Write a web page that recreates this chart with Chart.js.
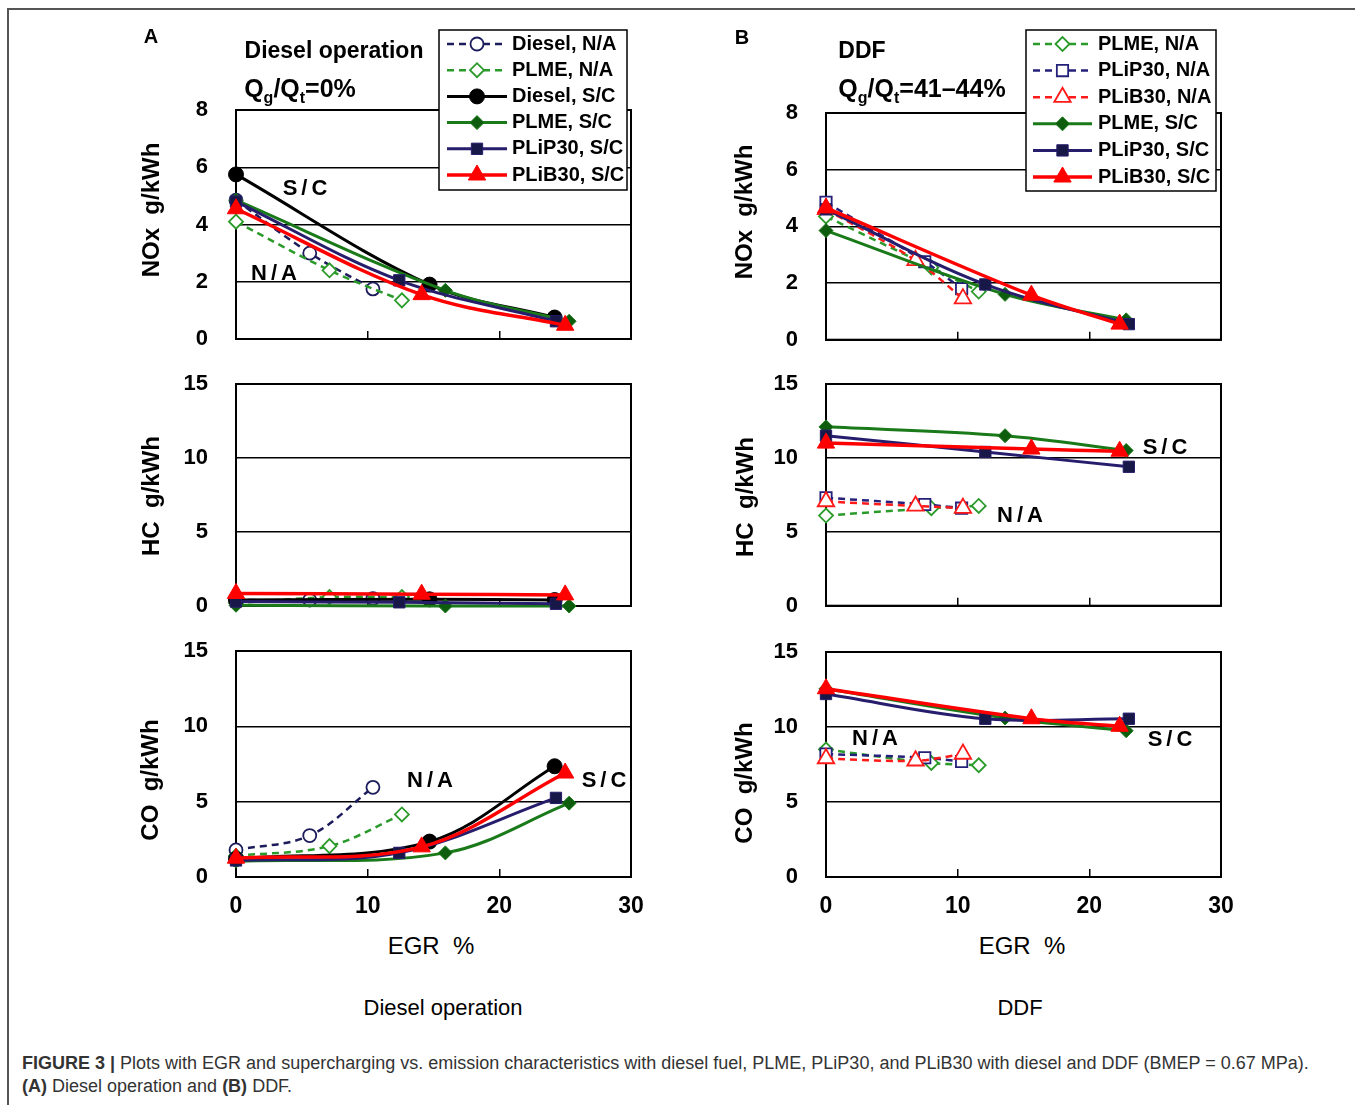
<!DOCTYPE html>
<html>
<head>
<meta charset="utf-8">
<script src="https://cdn.jsdelivr.net/npm/chart.js"></script>
<style>
  html, body { margin: 0; padding: 0; background: #fff; }
  body { width: 1355px; height: 1105px; position: relative; overflow: hidden;
         font-family: "Liberation Sans", Arial, sans-serif; }
  .frame { position: absolute; left: 7px; top: 8px; width: 1400px; height: 1200px;
           border-top: 2px solid #555; border-left: 2px solid #555; }
  canvas { position: absolute; }
  .t { position: absolute; white-space: pre; line-height: 1; color: #000;
       transform: translate(-50%, -50%); }
  .b { font-weight: bold; }
  .lab { font-weight: bold; font-size: 22px; letter-spacing: 4px; }
  .ytitle { font-weight: bold; font-size: 24px; transform: translate(-50%, -50%) rotate(-90deg); }
  .q sub { font-size: 16px; vertical-align: -6px; }
  .cap { position: absolute; left: 22px; top: 1052px; font-size: 18px; line-height: 23px;
         color: #333; white-space: nowrap; }
</style>
</head>
<body>
<div class="frame"></div>

<canvas id="noxA" width="520" height="330" style="left:130px;top:20px"></canvas>
<canvas id="hcA" width="520" height="247" style="left:130px;top:370px"></canvas>
<canvas id="coA" width="520" height="290" style="left:130px;top:637px"></canvas>
<canvas id="noxB" width="520" height="331" style="left:720px;top:20px"></canvas>
<canvas id="hcB" width="520" height="247" style="left:720px;top:370px"></canvas>
<canvas id="coB" width="520" height="289" style="left:720px;top:638px"></canvas>

<div class="t b" style="left:151px;top:36px;font-size:20px">A</div>
<div class="t b" style="left:742px;top:37px;font-size:20px">B</div>
<div class="t b" style="left:334px;top:50px;font-size:23px">Diesel operation</div>
<div class="t b q" style="left:300px;top:91px;font-size:25px">Q<sub>g</sub>/Q<sub>t</sub>=0%</div>
<div class="t b" style="left:862px;top:50px;font-size:23px">DDF</div>
<div class="t b q" style="left:922px;top:91px;font-size:25px">Q<sub>g</sub>/Q<sub>t</sub>=41–44%</div>

<div class="t lab" style="left:307px;top:188px">S/C</div>
<div class="t lab" style="left:276px;top:273px">N/A</div>
<div class="t lab" style="left:432px;top:780px">N/A</div>
<div class="t lab" style="left:606px;top:780px">S/C</div>
<div class="t lab" style="left:1167px;top:447px">S/C</div>
<div class="t lab" style="left:1022px;top:515px">N/A</div>
<div class="t lab" style="left:877px;top:738px">N/A</div>
<div class="t lab" style="left:1172px;top:739px">S/C</div>

<div class="t ytitle" style="left:151px;top:210px">NOx  g/kWh</div>
<div class="t ytitle" style="left:151px;top:496px">HC  g/kWh</div>
<div class="t ytitle" style="left:150px;top:780px">CO  g/kWh</div>
<div class="t ytitle" style="left:744px;top:212px">NOx  g/kWh</div>
<div class="t ytitle" style="left:745px;top:497px">HC  g/kWh</div>
<div class="t ytitle" style="left:744px;top:783px">CO  g/kWh</div>

<div class="t" style="left:431px;top:946px;font-size:24px">EGR  %</div>
<div class="t" style="left:1022px;top:946px;font-size:24px">EGR  %</div>
<div class="t" style="left:443px;top:1008px;font-size:22px">Diesel operation</div>
<div class="t" style="left:1020px;top:1008px;font-size:22px">DDF</div>

<div class="cap"><b>FIGURE 3 |</b> Plots with EGR and supercharging vs. emission characteristics with diesel fuel, PLME, PLiP30, and PLiB30 with diesel and DDF (BMEP = 0.67 MPa).<br><b>(A)</b> Diesel operation and <b>(B)</b> DDF.</div>

<script>
// axis ticks
const egrTicks = [0, 10, 20, 30];
const noxTicks = [0, 2, 4, 6, 8];
const gasTicks = [0, 5, 10, 15];

// (A) Diesel operation -- EGR % of each series
const egrA_dieselNA = [0, 5.6, 10.4];
const egrA_plmeNA   = [0, 7.1, 12.6];
const egrA_dieselSC = [0, 14.7, 24.2];
const egrA_plmeSC   = [0, 15.9, 25.3];
const egrA_plip30SC = [0, 12.4, 24.3];
const egrA_plib30SC = [0, 14.1, 25.0];

const noxA_dieselNA = [4.85, 3.0, 1.75];
const noxA_plmeNA   = [4.1, 2.4, 1.35];
const noxA_dieselSC = [5.75, 1.9, 0.75];
const noxA_plmeSC   = [4.85, 1.7, 0.62];
const noxA_plip30SC = [4.8, 2.05, 0.62];
const noxA_plib30SC = [4.55, 1.55, 0.48];

const hcA_dieselNA = [0.4, 0.4, 0.5];
const hcA_plmeNA   = [0.2, 0.6, 0.6];
const hcA_dieselSC = [0.4, 0.45, 0.4];
const hcA_plmeSC   = [0.05, 0.0, 0.0];
const hcA_plip30SC = [0.3, 0.25, 0.15];
const hcA_plib30SC = [0.85, 0.8, 0.75];

const coA_dieselNA = [1.8, 2.75, 5.95];
const coA_plmeNA   = [1.4, 2.05, 4.15];
const coA_dieselSC = [1.2, 2.35, 7.35];
const coA_plmeSC   = [1.05, 1.6, 4.9];
const coA_plip30SC = [1.1, 1.6, 5.25];
const coA_plib30SC = [1.25, 2.0, 6.9];

// (B) DDF
const egrB_plmeNA   = [0, 8.0, 11.6];
const egrB_plip30NA = [0, 7.5, 10.3];
const egrB_plib30NA = [0, 6.8, 10.4];
const egrB_plmeSC   = [0, 13.6, 22.8];
const egrB_plip30SC = [0, 12.1, 23.0];
const egrB_plib30SC = [0, 15.6, 22.3];

const noxB_plmeNA   = [4.35, 2.55, 1.7];
const noxB_plip30NA = [4.85, 2.75, 1.8];
const noxB_plib30NA = [4.6, 2.8, 1.45];
const noxB_plmeSC   = [3.85, 1.6, 0.7];
const noxB_plip30SC = [4.6, 1.95, 0.55];
const noxB_plib30SC = [4.65, 1.57, 0.55];

const hcB_plmeNA   = [6.1, 6.6, 6.75];
const hcB_plip30NA = [7.3, 6.85, 6.6];
const hcB_plib30NA = [7.05, 6.75, 6.6];
const hcB_plmeSC   = [12.1, 11.5, 10.5];
const hcB_plip30SC = [11.5, 10.4, 9.4];
const hcB_plib30SC = [11.0, 10.6, 10.45];

const coB_plmeNA   = [8.5, 7.6, 7.45];
const coB_plip30NA = [8.2, 7.95, 7.7];
const coB_plib30NA = [7.9, 7.75, 8.2];
const coB_plmeSC   = [12.55, 10.6, 9.75];
const coB_plip30SC = [12.2, 10.55, 10.55];
const coB_plib30SC = [12.55, 10.55, 10.05];

// look of each series
const styles = {
  dieselNA: { label: 'Diesel, N/A', color: '#1c1c5c', dash: [7, 5], width: 2.5, point: 'circle', r: 6.5, fill: '#fff', pw: 1.8 },
  plmeNA:   { label: 'PLME, N/A', color: '#2a9a2a', dash: [7, 5], width: 2.5, point: 'rectRot', r: 7, fill: '#fff', pw: 1.8 },
  plip30NA: { label: 'PLiP30, N/A', color: '#25207a', dash: [7, 5], width: 2.5, point: 'rect', r: 8, fill: '#fff', pw: 1.8 },
  plib30NA: { label: 'PLiB30, N/A', color: '#ff1a1a', dash: [7, 5], width: 2.5, point: 'triangle', r: 9.5, fill: '#fff', pw: 1.8 },
  dieselSC: { label: 'Diesel, S/C', color: '#000000', width: 3, point: 'circle', r: 7.5, fill: '#000' },
  plmeSC:   { label: 'PLME, S/C', color: '#1a7a1a', width: 3, point: 'rectRot', r: 7, fill: '#0e5c0e' },
  plip30SC: { label: 'PLiP30, S/C', color: '#261d6c', width: 3, point: 'rect', r: 8, fill: '#181848' },
  plib30SC: { label: 'PLiB30, S/C', color: '#ff0000', width: 3.5, point: 'triangle', r: 10, fill: '#ff0000' }
};

function series(key, xs, ys, i) {
  const s = styles[key];
  return {
    label: s.label,
    data: xs.map((x, k) => ({ x: x, y: ys[k] })),
    borderColor: s.color,
    borderWidth: s.width,
    borderDash: s.dash || [],
    pointStyle: s.point,
    pointRadius: s.r,
    pointHoverRadius: s.r,
    pointBackgroundColor: s.fill,
    pointBorderColor: s.color,
    pointBorderWidth: s.pw || 1,
    tension: 0.35,
    fill: false,
    clip: false,
    order: -i
  };
}

// box round the plot area
const plotBox = {
  id: 'plotBox',
  beforeDatasetsDraw(chart) {
    const a = chart.chartArea, ctx = chart.ctx;
    ctx.save();
    ctx.strokeStyle = '#000';
    ctx.lineWidth = 2;
    ctx.strokeRect(a.left, a.top, a.right - a.left, a.bottom - a.top);
    ctx.restore();
  }
};

// legend drawn in a framed box like the original
const legendBox = {
  id: 'legendBox',
  afterDraw(chart, args, o) {
    if (!o || !o.show) return;
    const ctx = chart.ctx;
    ctx.save();
    ctx.fillStyle = '#fff';
    ctx.fillRect(o.x, o.y, o.w, o.h);
    ctx.strokeStyle = '#000';
    ctx.lineWidth = 1.5;
    ctx.strokeRect(o.x, o.y, o.w, o.h);
    chart.data.datasets.forEach((ds, i) => {
      const y = o.y + o.first + i * o.row;
      ctx.beginPath();
      ctx.setLineDash(ds.borderDash);
      ctx.strokeStyle = ds.borderColor;
      ctx.lineWidth = ds.borderWidth;
      ctx.moveTo(o.x + o.l1, y);
      ctx.lineTo(o.x + o.l2, y);
      ctx.stroke();
      ctx.setLineDash([]);
      ctx.fillStyle = ds.pointBackgroundColor;
      ctx.strokeStyle = ds.pointBorderColor;
      ctx.lineWidth = ds.pointBorderWidth;
      Chart.helpers.drawPoint(ctx, { pointStyle: ds.pointStyle, radius: ds.pointRadius, borderWidth: ds.pointBorderWidth, rotation: 0 }, o.x + (o.l1 + o.l2) / 2, y);
      ctx.fillStyle = '#000';
      ctx.font = 'bold 20px "Liberation Sans"';
      ctx.textBaseline = 'middle';
      ctx.textAlign = 'left';
      ctx.fillText(ds.label, o.x + o.tx, y);
    });
    ctx.restore();
  }
};

function makeChart(id, datasets, yTicks, cfg) {
  return new Chart(document.getElementById(id), {
    type: 'line',
    data: { datasets: datasets },
    plugins: [plotBox, legendBox],
    options: {
      responsive: false,
      animation: false,
      devicePixelRatio: 1,
      layout: { padding: { top: cfg.top, right: 19, bottom: 0, left: 0 } },
      plugins: {
        legend: { display: false },
        tooltip: { enabled: false },
        legendBox: cfg.legend || { show: false }
      },
      scales: {
        x: {
          type: 'linear',
          min: egrTicks[0],
          max: egrTicks[egrTicks.length - 1],
          afterFit: (s) => { s.height = cfg.xh; s.paddingLeft = 0; s.paddingRight = 0; },
          ticks: {
            stepSize: egrTicks[1] - egrTicks[0],
            display: cfg.xlabels,
            color: '#000',
            padding: 24,
            font: { family: 'Liberation Sans', size: 23, weight: 'bold' }
          },
          grid: { drawOnChartArea: false, drawTicks: true, tickLength: -8, color: '#000', lineWidth: 1.5 },
          border: { color: '#000', width: 2 }
        },
        y: {
          min: yTicks[0],
          max: yTicks[yTicks.length - 1],
          afterFit: (s) => { s.width = 106; s.paddingTop = 0; s.paddingBottom = 0; },
          ticks: {
            stepSize: yTicks[1] - yTicks[0],
            color: '#000',
            padding: 28,
            font: { family: 'Liberation Sans', size: 22, weight: 'bold' }
          },
          grid: { drawTicks: false, color: '#000', lineWidth: 1.5 },
          border: { color: '#000', width: 2 }
        }
      }
    }
  });
}

const legendA = { show: true, x: 309, y: 10, w: 188, h: 160, first: 14, row: 26.2, l1: 8, l2: 68, tx: 73 };
const legendB = { show: true, x: 306, y: 10, w: 190, h: 161, first: 14, row: 26.6, l1: 7, l2: 66, tx: 72 };

makeChart('noxA', [
  series('dieselNA', egrA_dieselNA, noxA_dieselNA, 0),
  series('plmeNA', egrA_plmeNA, noxA_plmeNA, 1),
  series('dieselSC', egrA_dieselSC, noxA_dieselSC, 2),
  series('plmeSC', egrA_plmeSC, noxA_plmeSC, 3),
  series('plip30SC', egrA_plip30SC, noxA_plip30SC, 4),
  series('plib30SC', egrA_plib30SC, noxA_plib30SC, 5)
], noxTicks, { top: 90, xh: 8, xlabels: false, legend: legendA });

makeChart('hcA', [
  series('dieselNA', egrA_dieselNA, hcA_dieselNA, 0),
  series('plmeNA', egrA_plmeNA, hcA_plmeNA, 1),
  series('dieselSC', egrA_dieselSC, hcA_dieselSC, 2),
  series('plmeSC', egrA_plmeSC, hcA_plmeSC, 3),
  series('plip30SC', egrA_plip30SC, hcA_plip30SC, 4),
  series('plib30SC', egrA_plib30SC, hcA_plib30SC, 5)
], gasTicks, { top: 14, xh: 8, xlabels: false });

makeChart('coA', [
  series('dieselNA', egrA_dieselNA, coA_dieselNA, 0),
  series('plmeNA', egrA_plmeNA, coA_plmeNA, 1),
  series('dieselSC', egrA_dieselSC, coA_dieselSC, 2),
  series('plmeSC', egrA_plmeSC, coA_plmeSC, 3),
  series('plip30SC', egrA_plip30SC, coA_plip30SC, 4),
  series('plib30SC', egrA_plib30SC, coA_plib30SC, 5)
], gasTicks, { top: 14, xh: 50, xlabels: true });

makeChart('noxB', [
  series('plmeNA', egrB_plmeNA, noxB_plmeNA, 0),
  series('plip30NA', egrB_plip30NA, noxB_plip30NA, 1),
  series('plib30NA', egrB_plib30NA, noxB_plib30NA, 2),
  series('plmeSC', egrB_plmeSC, noxB_plmeSC, 3),
  series('plip30SC', egrB_plip30SC, noxB_plip30SC, 4),
  series('plib30SC', egrB_plib30SC, noxB_plib30SC, 5)
], noxTicks, { top: 93, xh: 8, xlabels: false, legend: legendB });

makeChart('hcB', [
  series('plmeNA', egrB_plmeNA, hcB_plmeNA, 0),
  series('plip30NA', egrB_plip30NA, hcB_plip30NA, 1),
  series('plib30NA', egrB_plib30NA, hcB_plib30NA, 2),
  series('plmeSC', egrB_plmeSC, hcB_plmeSC, 3),
  series('plip30SC', egrB_plip30SC, hcB_plip30SC, 4),
  series('plib30SC', egrB_plib30SC, hcB_plib30SC, 5)
], gasTicks, { top: 14, xh: 8, xlabels: false });

makeChart('coB', [
  series('plmeNA', egrB_plmeNA, coB_plmeNA, 0),
  series('plip30NA', egrB_plip30NA, coB_plip30NA, 1),
  series('plib30NA', egrB_plib30NA, coB_plib30NA, 2),
  series('plmeSC', egrB_plmeSC, coB_plmeSC, 3),
  series('plip30SC', egrB_plip30SC, coB_plip30SC, 4),
  series('plib30SC', egrB_plib30SC, coB_plib30SC, 5)
], gasTicks, { top: 14, xh: 50, xlabels: true });
</script>
</body>
</html>
